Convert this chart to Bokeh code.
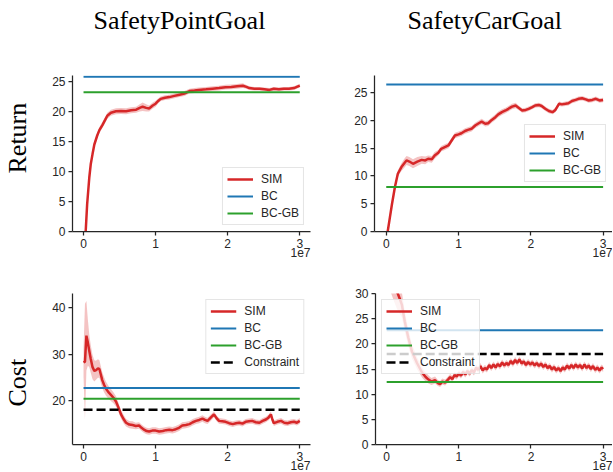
from bokeh.plotting import figure
from bokeh.models import Range1d, FixedTicker, Title
from bokeh.layouts import column, row
from bokeh.embed import file_html
from bokeh.resources import INLINE
import numpy as np

RED = "#d62728"
BLUE = "#1f77b4"
GREEN = "#2ca02c"
INK = "#262626"

col_titles = ["SafetyPointGoal", "SafetyCarGoal"]
row_titles = ["Return", "Cost"]
x_ticks = [0, 1, 2, 3]
x_ticks_labels = {0: "0", 1: "1", 2: "2", 3: "3"}
x_scale_label = "1e7"
step_span = [0.0, 3.0]   # training steps, in units of 1e7

# ---------------- SafetyPointGoal / Return ----------------
ret_pt_x = [0.03, 0.05, 0.08, 0.10, 0.125, 0.15, 0.19, 0.22, 0.26, 0.30,
            0.33, 0.38, 0.45, 0.52, 0.59, 0.66, 0.73, 0.78, 0.82, 0.87,
            0.91, 0.96, 1.00, 1.04, 1.07, 1.13, 1.19, 1.26, 1.33, 1.40,
            1.47, 1.54, 1.60, 1.70, 1.79, 1.88, 1.97, 2.05, 2.13, 2.21,
            2.26, 2.30, 2.37, 2.44, 2.51, 2.58, 2.64, 2.71, 2.78, 2.85,
            2.92, 2.96, 3.00]
ret_pt_y = [0.0, 4.5, 9.0, 11.2, 12.9, 14.5, 16.0, 16.9, 17.7, 18.6,
            19.3, 19.8, 20.05, 20.1, 20.05, 20.2, 20.3, 20.6, 20.8, 20.6,
            20.5, 21.0, 21.3, 21.8, 22.1, 22.3, 22.4, 22.6, 22.8, 23.0,
            23.4, 23.5, 23.6, 23.7, 23.8, 23.9, 24.05, 24.1, 24.2, 24.3,
            24.1, 23.9, 23.8, 23.8, 23.7, 23.6, 23.8, 23.7, 23.8, 23.8,
            23.9, 24.1, 24.3]
ret_pt_band = [0.2, 0.3, 0.4, 0.4, 0.4, 0.4, 0.4, 0.5, 0.5, 0.5,
               0.5, 0.5, 0.5, 0.5, 0.5, 0.5, 0.5, 0.6, 0.7, 0.6,
               0.5, 0.5, 0.5, 0.4, 0.4, 0.4, 0.4, 0.4, 0.4, 0.4,
               0.4, 0.4, 0.4, 0.4, 0.4, 0.4, 0.4, 0.4, 0.4, 0.4,
               0.3, 0.3, 0.3, 0.3, 0.3, 0.3, 0.3, 0.3, 0.3, 0.3,
               0.3, 0.3, 0.3]
ret_pt_bc = 25.8
ret_pt_bcgb = 23.2

# ---------------- SafetyCarGoal / Return ----------------
ret_car_x = [0.02, 0.05, 0.08, 0.12, 0.16, 0.21, 0.25, 0.28, 0.32, 0.37,
             0.43, 0.49, 0.54, 0.58, 0.63, 0.67, 0.72, 0.76, 0.81, 0.86,
             0.90, 0.95, 1.00, 1.04, 1.09, 1.13, 1.18, 1.23, 1.28, 1.32,
             1.37, 1.41, 1.46, 1.51, 1.55, 1.60, 1.65, 1.69, 1.74, 1.79,
             1.83, 1.88, 1.93, 1.97, 2.02, 2.06, 2.11, 2.15, 2.20, 2.25,
             2.30, 2.34, 2.39, 2.43, 2.48, 2.52, 2.57, 2.62, 2.66, 2.71,
             2.76, 2.80, 2.85, 2.90, 2.95, 3.00]
ret_car_y = [0.0, 2.5, 5.0, 8.0, 10.4, 11.6, 12.3, 12.8, 12.6, 12.2,
             12.6, 12.9, 12.8, 13.1, 13.0, 13.7, 14.2, 14.9, 15.2, 15.5,
             16.3, 17.3, 17.5, 17.7, 18.1, 18.3, 18.5, 19.1, 19.5, 19.8,
             19.4, 19.5, 20.1, 20.6, 21.1, 21.5, 21.8, 22.1, 22.5, 22.7,
             22.3, 21.8, 21.9, 22.1, 22.4, 22.7, 22.8, 22.6, 22.1, 21.7,
             21.5, 21.9, 23.0, 22.9, 23.0, 23.1, 23.5, 23.7, 23.9, 24.0,
             23.8, 23.6, 23.7, 23.9, 23.6, 23.7]
ret_car_band = [0.2, 0.3, 0.4, 0.5, 0.6, 0.7, 0.8, 0.8, 0.8, 0.8,
                0.8, 0.7, 0.7, 0.6, 0.6, 0.6, 0.5, 0.5, 0.5, 0.5,
                0.5, 0.5, 0.5, 0.5, 0.5, 0.5, 0.5, 0.5, 0.5, 0.5,
                0.5, 0.5, 0.5, 0.5, 0.5, 0.5, 0.5, 0.5, 0.5, 0.5,
                0.4, 0.4, 0.4, 0.4, 0.4, 0.4, 0.4, 0.4, 0.4, 0.4,
                0.4, 0.4, 0.4, 0.4, 0.4, 0.4, 0.4, 0.4, 0.4, 0.4,
                0.4, 0.4, 0.4, 0.4, 0.4, 0.4]
ret_car_bc = 26.5
ret_car_bcgb = 8.0

# ---------------- SafetyPointGoal / Cost ----------------
cost_pt_x = [0.00, 0.02, 0.04, 0.06, 0.08, 0.10, 0.125, 0.15, 0.17, 0.20,
             0.22, 0.24, 0.26, 0.285, 0.31, 0.345, 0.38, 0.415, 0.45, 0.49,
             0.52, 0.555, 0.59, 0.635, 0.68, 0.725, 0.77, 0.805, 0.84, 0.875,
             0.91, 0.955, 1.00, 1.05, 1.10, 1.145, 1.19, 1.235, 1.28, 1.325,
             1.37, 1.42, 1.47, 1.515, 1.56, 1.605, 1.65, 1.685, 1.72, 1.765,
             1.81, 1.845, 1.88, 1.925, 1.97, 2.02, 2.07, 2.115, 2.16, 2.205,
             2.25, 2.295, 2.34, 2.39, 2.44, 2.485, 2.53, 2.565, 2.60, 2.62,
             2.64, 2.69, 2.74, 2.785, 2.83, 2.875, 2.92, 2.96, 3.00]
cost_pt_y = [28.2, 28.4, 34.0, 32.5, 30.7, 29.0, 27.2, 26.4, 26.5, 26.9,
             26.8, 25.6, 24.4, 23.4, 22.6, 21.8, 21.2, 20.6, 19.8, 18.3,
             17.0, 16.0, 15.2, 14.8, 14.7, 14.5, 14.6, 14.1, 13.7, 13.4,
             13.3, 13.5, 13.5, 13.3, 13.4, 13.6, 13.7, 13.6, 13.8, 14.1,
             14.6, 14.7, 14.9, 15.3, 15.6, 15.8, 16.1, 15.8, 15.6, 16.3,
             17.0, 16.2, 15.6, 15.5, 15.4, 15.1, 14.9, 15.1, 15.2, 15.0,
             15.4, 15.5, 15.6, 15.3, 15.2, 15.6, 15.9, 16.3, 17.0, 15.9,
             15.1, 15.4, 15.6, 15.2, 15.1, 15.3, 15.4, 15.2, 15.6]
cost_pt_band = [3.0, 12.5, 7.5, 5.0, 3.5, 3.0, 2.6, 2.3, 2.1, 2.0,
                1.9, 1.8, 1.7, 1.6, 1.5, 1.4, 1.3, 1.2, 1.1, 1.0,
                0.9, 0.9, 0.8, 0.8, 0.8, 0.7, 0.7, 0.7, 0.7, 0.7,
                0.7, 0.7, 0.7, 0.7, 0.7, 0.7, 0.7, 0.7, 0.7, 0.7,
                0.7, 0.7, 0.7, 0.7, 0.7, 0.7, 0.7, 0.7, 0.7, 0.7,
                0.6, 0.6, 0.6, 0.6, 0.6, 0.6, 0.6, 0.6, 0.6, 0.6,
                0.6, 0.6, 0.6, 0.6, 0.6, 0.6, 0.6, 0.6, 0.6, 0.6,
                0.6, 0.6, 0.6, 0.6, 0.6, 0.6, 0.6, 0.6, 0.6]
cost_pt_bc = 22.7
cost_pt_bcgb = 20.4
cost_limit = 18.0

# ---------------- SafetyCarGoal / Cost ----------------
cost_car_x = [0.00, 0.05, 0.10, 0.14, 0.18, 0.21, 0.25, 0.30, 0.35, 0.42,
              0.49, 0.54, 0.58, 0.62, 0.67, 0.71, 0.74, 0.77, 0.81, 0.85,
              0.88, 0.91, 0.94, 0.97, 1.00, 1.03, 1.06, 1.09, 1.12, 1.15,
              1.18, 1.21, 1.24, 1.27, 1.30, 1.33, 1.36, 1.39, 1.42, 1.45,
              1.48, 1.51, 1.54, 1.57, 1.60, 1.63, 1.66, 1.69, 1.72, 1.75,
              1.78, 1.81, 1.84, 1.87, 1.90, 1.93, 1.96, 1.99, 2.02, 2.05,
              2.08, 2.11, 2.14, 2.17, 2.20, 2.23, 2.26, 2.29, 2.32, 2.35,
              2.38, 2.41, 2.44, 2.47, 2.50, 2.53, 2.56, 2.59, 2.62, 2.65,
              2.68, 2.71, 2.74, 2.77, 2.80, 2.83, 2.86, 2.89, 2.92, 2.95,
              2.98, 3.00]
cost_car_y = [40.0, 36.5, 33.0, 30.5, 29.0, 27.8, 24.5, 21.2, 18.5, 16.2,
              14.3, 13.4, 12.9, 12.5, 12.8, 12.2, 12.0, 12.5, 12.3, 12.9,
              13.4, 13.0, 13.8, 13.5, 14.1, 13.7, 14.4, 13.9, 14.6, 14.1,
              14.8, 14.3, 15.3, 14.8, 15.6, 14.7, 15.2, 14.9, 15.8, 15.2,
              15.9, 15.3, 16.0, 15.5, 16.3, 15.7, 16.2, 15.8, 16.6, 16.0,
              16.8, 16.2, 16.9, 16.1, 16.5, 15.8, 16.4, 15.9, 16.3, 15.7,
              16.2, 15.6, 16.1, 15.4, 15.9, 15.2, 15.6, 14.9, 15.4, 14.7,
              15.2, 14.6, 15.3, 14.9, 15.7, 15.1, 15.8, 15.2, 15.9, 15.3,
              15.8, 15.1, 15.9, 15.2, 15.7, 15.0, 15.6, 14.8, 15.3, 14.7,
              15.3, 15.0]
cost_car_band = [8.0, 6.0, 4.5, 3.5, 3.0, 2.5, 2.0, 1.7, 1.4, 1.2,
                 1.0, 0.9, 0.8, 0.7, 0.7, 0.6, 0.6, 0.6, 0.6, 0.6,
                 0.6, 0.6, 0.6, 0.6, 0.6, 0.6, 0.6, 0.6, 0.6, 0.6,
                 0.6, 0.6, 0.6, 0.6, 0.6, 0.6, 0.6, 0.6, 0.6, 0.6,
                 0.6, 0.6, 0.6, 0.6, 0.6, 0.6, 0.6, 0.6, 0.6, 0.6,
                 0.6, 0.6, 0.6, 0.6, 0.6, 0.6, 0.6, 0.6, 0.6, 0.6,
                 0.6, 0.6, 0.6, 0.6, 0.6, 0.6, 0.6, 0.6, 0.6, 0.6,
                 0.6, 0.6, 0.6, 0.6, 0.6, 0.6, 0.6, 0.6, 0.6, 0.6,
                 0.6, 0.6, 0.6, 0.6, 0.6, 0.6, 0.6, 0.6, 0.6, 0.6,
                 0.6, 0.6]
cost_car_bc = 22.7
cost_car_bcgb = 12.4

SERIF = "Liberation Serif"
SANS = "Liberation Sans"


def spacer(size):
    # a blank (whitespace) tiny title used only to reserve room in a side panel
    return Title(text=" ", standoff=size, text_font_size="1px",
                 text_font=SANS, text_color=INK)


def make(w, h, xr, yr, yticks, bl, br, bt, bb, title=None, title_offset=0,
         title_gap=0, row_title=None, row_offset=0, row_gap=0):
    p = figure(width=w, height=h, x_range=Range1d(*xr), y_range=Range1d(*yr),
               output_backend="svg", toolbar_location=None,
               min_border_left=bl, min_border_right=br,
               min_border_top=bt, min_border_bottom=bb, title=None)
    p.outline_line_color = None
    p.xgrid.visible = False
    p.ygrid.visible = False
    p.background_fill_color = "white"
    p.border_fill_color = "white"
    p.xaxis.ticker = FixedTicker(ticks=x_ticks)
    p.xaxis.major_label_overrides = x_ticks_labels
    p.yaxis.ticker = FixedTicker(ticks=yticks)
    for ax in (p.xaxis[0], p.yaxis[0]):
        ax.axis_line_color = INK
        ax.axis_line_width = 1.25
        ax.major_tick_line_color = INK
        ax.major_tick_line_width = 1.25
        ax.major_tick_out = 4
        ax.major_tick_in = 0
        ax.minor_tick_line_color = None
        ax.major_label_text_font = SANS
        ax.major_label_text_font_size = "12px"
        ax.major_label_text_color = INK
        ax.major_label_standoff = 3
    if title is not None:
        p.add_layout(spacer(title_gap), "above")
        p.add_layout(Title(text=title, align="left", vertical_align="top",
                           offset=title_offset, standoff=0,
                           text_font=SERIF, text_font_size="26px",
                           text_font_style="normal", text_color="black"), "above")
    if row_title is not None:
        p.add_layout(spacer(row_gap), "left")
        p.add_layout(Title(text=row_title, align="left", vertical_align="top",
                           offset=row_offset, standoff=0,
                           text_font=SERIF, text_font_size="26px",
                           text_font_style="normal", text_color="black"), "left")
    p.add_layout(Title(text=x_scale_label, align="right", vertical_align="top",
                       offset=0, standoff=-6,
                       text_font=SANS, text_font_size="12px",
                       text_font_style="normal", text_color=INK), "below")
    return p


def add_series(p, x, y, band, bc, bcgb, constraint=None):
    y = np.array(y)
    b = np.array(band)
    p.varea(x=x, y1=y - b, y2=y + b, fill_color=RED, fill_alpha=0.28)
    p.line(x, y, line_color=RED, line_width=2.5, legend_label="SIM")
    p.line(step_span, [bc, bc], line_color=BLUE, line_width=2, legend_label="BC")
    p.line(step_span, [bcgb, bcgb], line_color=GREEN, line_width=2, legend_label="BC-GB")
    if constraint is not None:
        p.line(step_span, [constraint, constraint], line_color="black",
               line_width=2.5, line_dash="9 4", legend_label="Constraint")


def style_legend(p, loc):
    lg = p.legend[0]
    lg.location = loc
    lg.label_text_font = SANS
    lg.label_text_font_size = "12px"
    lg.label_text_color = INK
    lg.glyph_width = 26
    lg.glyph_height = 14
    lg.label_height = 14
    lg.spacing = 3
    lg.padding = 4
    lg.margin = 6
    lg.label_standoff = 8
    lg.border_line_color = "#cccccc"
    lg.border_line_width = 1
    lg.background_fill_alpha = 0.8


f1 = make(312, 264, (-0.153, 3.149), (0, 26.0), [0, 5, 10, 15, 20, 25],
          72, 2, 75, 33, title=col_titles[0], title_offset=21, title_gap=36,
          row_title=row_titles[0], row_offset=58, row_gap=13)
add_series(f1, ret_pt_x, ret_pt_y, ret_pt_band, ret_pt_bc, ret_pt_bcgb)
style_legend(f1, "bottom_right")

f2 = make(300, 264, (-0.1625, 3.13), (0, 28.1), [0, 5, 10, 15, 20, 25],
          62, 0, 75, 33, title=col_titles[1], title_offset=33, title_gap=36)
add_series(f2, ret_car_x, ret_car_y, ret_car_band, ret_car_bc, ret_car_bcgb)
style_legend(f2, "center_right")

f3 = make(312, 208, (-0.153, 3.149), (10.5, 43.1), [20, 30, 40],
          72, 2, 25, 28, row_title=row_titles[1], row_offset=38, row_gap=13)
add_series(f3, cost_pt_x, cost_pt_y, cost_pt_band, cost_pt_bc, cost_pt_bcgb, cost_limit)
style_legend(f3, "top_right")

f4 = make(300, 208, (-0.155, 3.13), (0, 30), [0, 5, 10, 15, 20, 25, 30],
          63, 0, 29, 28)
add_series(f4, cost_car_x, cost_car_y, cost_car_band, cost_car_bc, cost_car_bcgb, cost_limit)
style_legend(f4, "top_left")

layout = column(row(f1, f2), row(f3, f4))
open("out.html", "w").write(file_html(layout, INLINE))
